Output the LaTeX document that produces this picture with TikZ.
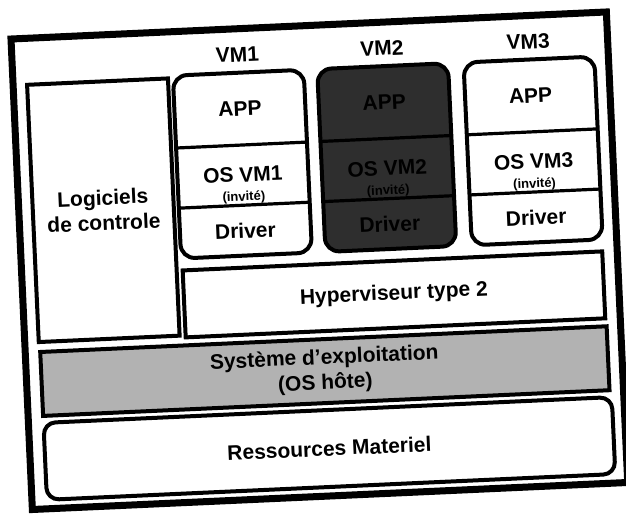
\documentclass[tikz,border=0pt]{standalone}
\usepackage{fontspec}
\setmainfont{Liberation Sans}
\begin{document}
\begin{tikzpicture}[x=0.5pt,y=-0.5pt,
  every node/.style={font=\bfseries\fontsize{10.5}{12.6}\selectfont},
  invite/.style={font=\bfseries\fontsize{6.5}{7}\selectfont, inner sep=0pt},
  ostxt/.style={inner sep=0pt},
  frame/.style={draw, line width=3.5pt, minimum width=298pt, minimum height=235.5pt},
  layer/.style={draw, line width=2pt, align=center},
  vmbox/.style={draw, line width=2pt, rounded corners=7pt, minimum width=65.5pt, minimum height=91.5pt},
  vmrow/.style={minimum width=65.5pt, inner sep=0pt},
  divider/.style={line width=1.6pt}]
\useasboundingbox (0,0) rectangle (626,516);
\begin{scope}[shift={(11,39)}, rotate=2.6, transform shape]
\node[frame] (cadre) at (298,235.5) {};
\node[layer, minimum width=70.5pt, minimum height=128.75pt] (logiciels) at (84.5,175.25)
{Logiciels\\de controle};

\node (vm1lbl) at (225.5,26) {VM1};
\node (vm2lbl) at (370,26) {VM2};
\node (vm3lbl) at (516.5,26) {VM3};

\node[vmbox] (vm1) at (225.5,135.5) {};
\node[vmbox, fill=black!82] (vm2) at (370,135.5) {};
\node[vmbox] (vm3) at (516.5,135.5) {};

\node[vmrow, minimum height=36pt] (vm1app) at (225.5,80) {APP};
\node[ostxt] (vm1os) at (225.5,146) {OS VM1};
\node[invite] (vm1inv) at (225.5,169) {(invité)};
\node[vmrow, minimum height=25pt] (vm1drv) at (225.5,202) {Driver};

\node[vmrow, minimum height=36pt] (vm2app) at (370,80) {APP};
\node[ostxt] (vm2os) at (370,146) {OS VM2};
\node[invite] (vm2inv) at (370,169) {(invité)};
\node[vmrow, minimum height=25pt] (vm2drv) at (370,202) {Driver};

\node[vmrow, minimum height=36pt] (vm3app) at (516.5,80) {APP};
\node[ostxt] (vm3os) at (516.5,146) {OS VM3};
\node[invite] (vm3inv) at (516.5,169) {(invité)};
\node[vmrow, minimum height=25pt] (vm3drv) at (516.5,202) {Driver};

\draw[divider] (vm1app.south west) -- (vm1app.south east);
\draw[divider] (vm1drv.north west) -- (vm1drv.north east);
\draw[divider] (vm2app.south west) -- (vm2app.south east);
\draw[divider] (vm2drv.north west) -- (vm2drv.north east);
\draw[divider] (vm3app.south west) -- (vm3app.south east);
\draw[divider] (vm3drv.north west) -- (vm3drv.north east);

\node[layer, minimum width=210pt, minimum height=33.5pt] (hyper) at (371,272.5)
{Hyperviseur type 2};
\node[layer, fill=black!30, minimum width=283.5pt, minimum height=32pt] (oshote) at (298.5,346)
{Système d'exploitation\\(OS hôte)};
\node[layer, rounded corners=6pt, minimum width=284.5pt, minimum height=38.5pt] (materiel) at (299.5,423.5)
{Ressources Materiel};
\end{scope}
\end{tikzpicture}
\end{document}
